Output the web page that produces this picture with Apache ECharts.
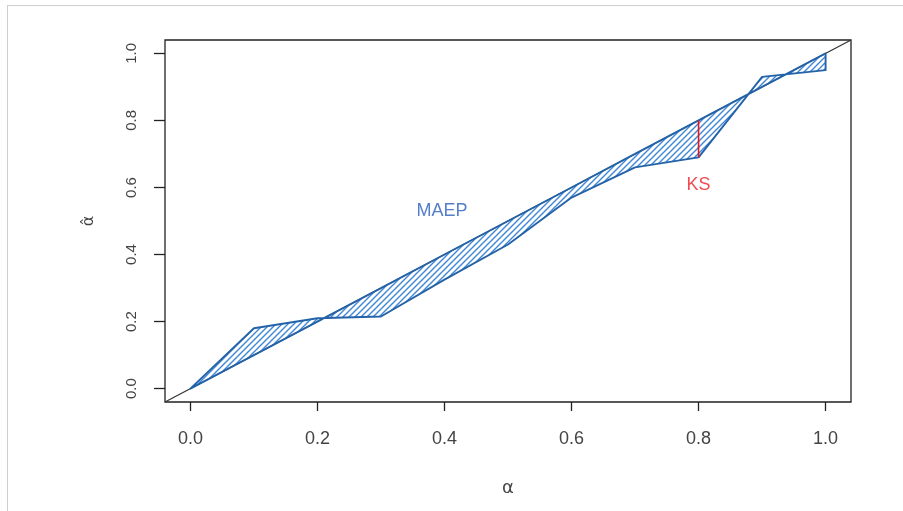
<!DOCTYPE html>
<html>
<head>
<meta charset="utf-8">
<script src="https://cdn.jsdelivr.net/npm/echarts@6/dist/echarts.min.js"></script>
<style>
  html, body { margin: 0; padding: 0; background: #fff; }
  #frame { position: absolute; left: 7px; top: 5px; width: 896px; height: 506px;
           border-left: 1px solid #cfcfcf; border-top: 1px solid #cfcfcf; }
  #chart { width: 903px; height: 511px; }
</style>
</head>
<body>
<div id="frame"></div>
<div id="chart"></div>
<script>
// nominal level vs estimated level
const alpha = [0, 0.1, 0.2, 0.3, 0.4, 0.5, 0.6, 0.7, 0.8, 0.9, 1.0]
const alphaHat = [0, 0.18, 0.21, 0.215, 0.325, 0.43, 0.57, 0.66, 0.69, 0.93, 0.95]
const tickVals = [0, 0.2, 0.4, 0.6, 0.8, 1.0]
const axisRange = [-0.04, 1.04]
const ksAt = 0.8
const maepLabel = [0.396, 0.53]
const ksLabel = [0.8, 0.607]

// hatch pattern "////"
function makeHatch() {
  const s = 6
  const c = document.createElement('canvas')
  c.width = s; c.height = s
  const g = c.getContext('2d')
  g.strokeStyle = '#3f86d4'
  g.lineWidth = 1.4
  g.beginPath()
  g.moveTo(-1, s + 1); g.lineTo(s + 1, -1)
  g.moveTo(-1, 1); g.lineTo(1, -1)
  g.moveTo(s - 1, s + 1); g.lineTo(s + 1, s - 1)
  g.stroke()
  return c
}

const chart = echarts.init(document.getElementById('chart'))
const textColor = '#444'

chart.setOption({
  animation: false,
  grid: { left: 165, right: 52, top: 40, bottom: 109, show: true, borderColor: '#222', borderWidth: 1.3 },
  xAxis: {
    type: 'value', min: axisRange[0], max: axisRange[1],
    name: 'α', nameLocation: 'middle', nameGap: 77,
    nameTextStyle: { color: textColor, fontSize: 18, fontFamily: 'DejaVu Sans' },
    axisLine: { show: false, onZero: false },
    splitLine: { show: false },
    axisTick: { show: true, length: 9, customValues: tickVals, lineStyle: { color: '#222', width: 1.3 } },
    axisLabel: { customValues: tickVals, margin: 28, fontSize: 18, color: textColor,
      fontFamily: 'Liberation Sans', formatter: v => v.toFixed(1) }
  },
  yAxis: {
    type: 'value', min: axisRange[0], max: axisRange[1],
    name: 'α̂', nameLocation: 'middle', nameGap: 68, nameRotate: 90,
    nameTextStyle: { color: textColor, fontSize: 16, fontFamily: 'DejaVu Sans' },
    axisLine: { show: false, onZero: false },
    splitLine: { show: false },
    axisTick: { show: true, length: 11, customValues: tickVals, lineStyle: { color: '#222', width: 1.3 } },
    axisLabel: { customValues: tickVals, margin: 26, rotate: 90, fontSize: 15, color: textColor,
      fontFamily: 'Liberation Sans', formatter: v => v.toFixed(1) }
  },
  series: [
    {
      type: 'line', symbol: 'none', silent: true, z: 2,
      data: [[axisRange[0], axisRange[0]], [axisRange[1], axisRange[1]]],
      lineStyle: { color: '#333', width: 1.2 }
    },
    {
      type: 'custom', silent: true, z: 3,
      data: [[0, 0]],
      renderItem: (params, api) => {
        const pts = []
        alpha.forEach((a, i) => pts.push(api.coord([a, alphaHat[i]])))
        for (let i = alpha.length - 1; i >= 0; i--) pts.push(api.coord([alpha[i], alpha[i]]))
        return {
          type: 'polygon',
          shape: { points: pts },
          style: {
            fill: { image: makeHatch(), repeat: 'repeat' },
            stroke: '#2563a8', lineWidth: 1.9, lineJoin: 'round'
          }
        }
      }
    },
    {
      type: 'line', symbol: 'none', silent: true, z: 4,
      data: [[ksAt, alphaHat[alpha.indexOf(ksAt)]], [ksAt, ksAt]],
      lineStyle: { color: '#e8141c', width: 1.6 }
    },
    {
      type: 'scatter', symbolSize: 0, silent: true, z: 5,
      data: [
        { value: maepLabel, label: { formatter: 'MAEP', color: '#2a5cbd' } },
        { value: ksLabel, label: { formatter: 'KS', color: '#ee1c25' } }
      ],
      label: { show: true, position: 'inside', fontSize: 18, fontFamily: 'Liberation Sans' }
    }
  ]
})
</script>
</body>
</html>
